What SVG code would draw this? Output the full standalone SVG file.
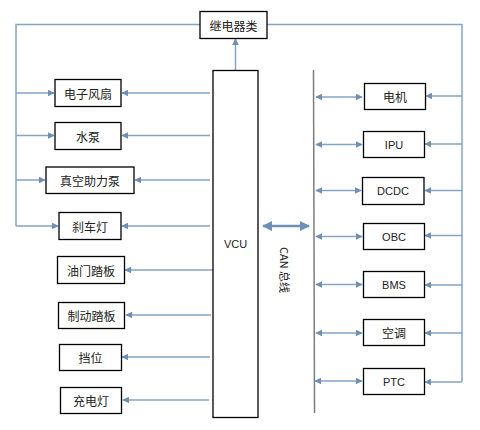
<svg xmlns="http://www.w3.org/2000/svg" width="480" height="430" viewBox="0 0 480 430">
<defs>
<marker id="ah" viewBox="0 0 10 10" refX="9" refY="5" markerWidth="7" markerHeight="7" markerUnits="userSpaceOnUse" orient="auto-start-reverse">
<path d="M0,0 L10,5 L0,10 z" fill="#6f90b6"/>
</marker>
<marker id="ahb" viewBox="0 0 10 10" refX="9" refY="5" markerWidth="4" markerHeight="4" orient="auto-start-reverse">
<path d="M0,0 L10,5 L0,10 z" fill="#6f90b6"/>
</marker>
</defs>
<style>
.box{fill:#fff;stroke:#000;stroke-width:1.3}
.t{font-family:"Noto Sans CJK SC","Liberation Sans",sans-serif;font-size:12px;fill:#222;text-anchor:middle;dominant-baseline:central}
.tl{font-family:"Liberation Sans","Noto Sans CJK SC",sans-serif;font-size:11px;fill:#222;text-anchor:middle;dominant-baseline:central}
.ln{stroke:#86a2c4;stroke-width:1.5;fill:none}
.ar{stroke:#86a2c4;stroke-width:1.5;fill:none;marker-end:url(#ah)}
.da{stroke:#86a2c4;stroke-width:1.5;fill:none;marker-end:url(#ah);marker-start:url(#ah)}
</style>
<rect width="480" height="430" fill="#fff"/>
<g id="connectors">
<polyline class="ln" points="200,24.5 16,24.5 16,226"/>
<polyline class="ln" points="267,24.5 462,24.5 462,382"/>
<line class="ar" x1="235.5" y1="70" x2="235.5" y2="39"/>
<line class="ar" x1="16" y1="93" x2="54" y2="93"/>
<line class="ar" x1="16" y1="135.5" x2="54" y2="135.5"/>
<line class="ar" x1="16" y1="180" x2="45" y2="180"/>
<line class="ar" x1="16" y1="226" x2="58" y2="226"/>
<line class="ar" x1="210" y1="93" x2="122" y2="93"/>
<line class="ar" x1="210" y1="135.5" x2="122" y2="135.5"/>
<line class="ar" x1="210" y1="180" x2="135" y2="180"/>
<line class="ar" x1="210" y1="226" x2="122" y2="226"/>
<line class="ar" x1="213" y1="270" x2="125" y2="270"/>
<line class="ar" x1="211" y1="315" x2="126" y2="315"/>
<line class="ar" x1="210" y1="357" x2="122" y2="357"/>
<line class="ar" x1="209" y1="400" x2="123" y2="400"/>
<line x1="313.5" y1="70" x2="314.5" y2="413" stroke="#7d7d7d" stroke-width="1.5"/>
<line x1="263" y1="226" x2="309" y2="226" stroke="#6f90b6" stroke-width="2.5" marker-start="url(#ahb)" marker-end="url(#ahb)"/>
<line class="da" x1="316" y1="97" x2="362" y2="97"/>
<line class="da" x1="316" y1="144.5" x2="362" y2="144.5"/>
<line class="da" x1="316" y1="190.5" x2="361" y2="190.5"/>
<line class="da" x1="316" y1="236.5" x2="362" y2="236.5"/>
<line class="da" x1="316" y1="284.5" x2="362" y2="284.5"/>
<line class="da" x1="316" y1="333" x2="362" y2="333"/>
<line class="da" x1="315" y1="381" x2="362" y2="381"/>
<line class="ar" x1="462" y1="96" x2="426" y2="96"/>
<line class="ar" x1="462" y1="144" x2="425" y2="144"/>
<line class="ar" x1="462" y1="190.5" x2="425" y2="190.5"/>
<line class="ar" x1="462" y1="235.5" x2="425" y2="235.5"/>
<line class="ar" x1="462" y1="285" x2="425" y2="285"/>
<line class="ar" x1="462" y1="333" x2="425" y2="333"/>
<line class="ar" x1="462" y1="382" x2="425" y2="382"/>
</g>
<g id="relay"><rect class="box" x="200" y="11.5" width="67" height="27"/><text class="t" x="233.5" y="25">继电器类</text></g>
<g id="vcu"><rect class="box" x="213" y="70.5" width="45" height="347"/><text class="tl" x="235.5" y="244">VCU</text></g>
<g id="can-label"><text class="t" transform="translate(285,270) rotate(90)" style="font-size:11px">CAN 总线</text></g>
<g id="fan"><rect class="box" x="55" y="79.5" width="66" height="27"/><text class="t" x="88" y="93">电子风扇</text></g>
<g id="pump"><rect class="box" x="55" y="122.5" width="66" height="27"/><text class="t" x="88" y="136">水泵</text></g>
<g id="vacuum"><rect class="box" x="46" y="167" width="88" height="26.5"/><text class="t" x="90" y="180">真空助力泵</text></g>
<g id="brakelight"><rect class="box" x="59" y="212.5" width="62" height="27"/><text class="t" x="90" y="226">刹车灯</text></g>
<g id="throttle"><rect class="box" x="57.5" y="256.5" width="67" height="27"/><text class="t" x="91" y="270">油门踏板</text></g>
<g id="brakepedal"><rect class="box" x="58.5" y="302.5" width="66" height="26"/><text class="t" x="91.5" y="315.5">制动踏板</text></g>
<g id="gear"><rect class="box" x="59.5" y="344.5" width="62" height="26"/><text class="t" x="90.5" y="357.5">挡位</text></g>
<g id="chargelight"><rect class="box" x="60.5" y="387.5" width="61" height="26"/><text class="t" x="91" y="400.5">充电灯</text></g>
<g id="motor"><rect class="box" x="364.5" y="83.5" width="61" height="26"/><text class="t" x="395" y="96.5">电机</text></g>
<g id="ipu"><rect class="box" x="363.5" y="131.5" width="61" height="26"/><text class="tl" x="394" y="144.5">IPU</text></g>
<g id="dcdc"><rect class="box" x="362.5" y="177.5" width="61.5" height="27"/><text class="tl" x="393" y="191">DCDC</text></g>
<g id="obc"><rect class="box" x="363.5" y="223.5" width="61" height="26"/><text class="tl" x="394" y="236.5">OBC</text></g>
<g id="bms"><rect class="box" x="363.5" y="271.5" width="61" height="26"/><text class="tl" x="394" y="284.5">BMS</text></g>
<g id="ac"><rect class="box" x="363.5" y="319.5" width="61" height="26"/><text class="t" x="394" y="332.5">空调</text></g>
<g id="ptc"><rect class="box" x="363.5" y="368.5" width="61" height="26"/><text class="tl" x="394" y="381.5">PTC</text></g>
</svg>
